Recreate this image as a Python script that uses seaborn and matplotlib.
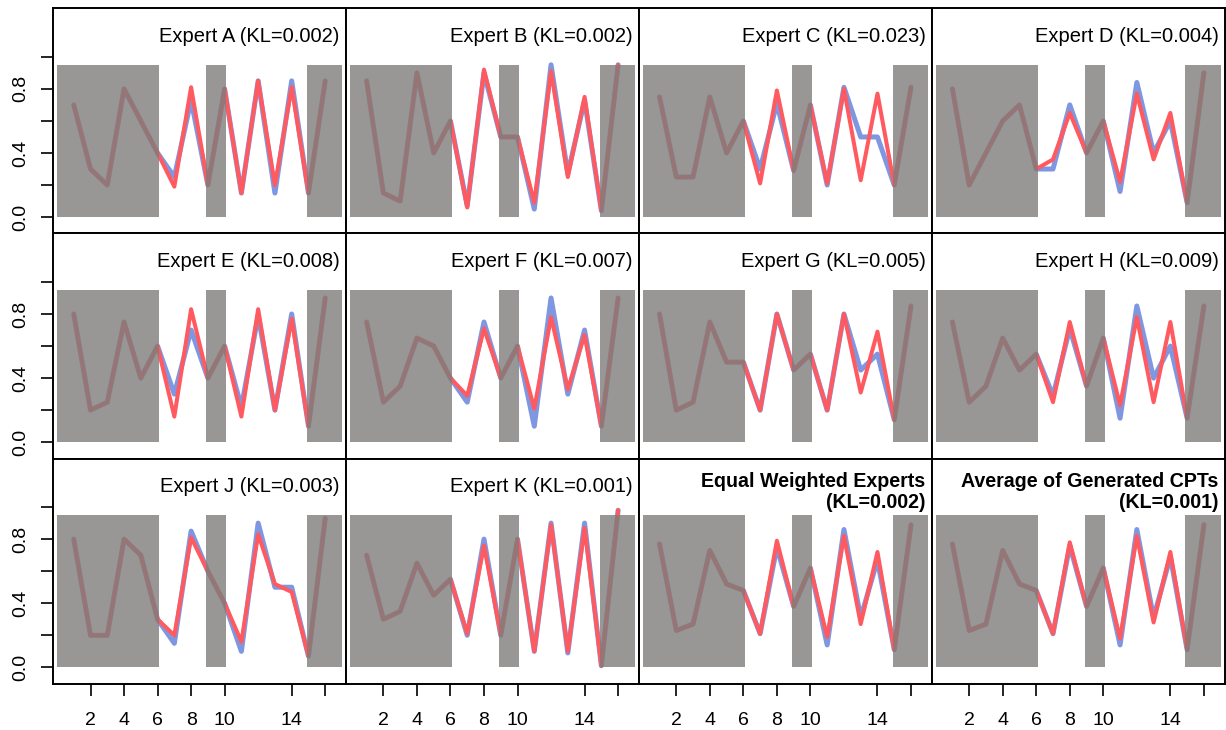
import matplotlib.pyplot as plt
import pandas as pd
import seaborn as sns
from matplotlib.patches import Rectangle

# CPT entries 1..16
positions = list(range(1, 17))

# blue = true CPT, red = elicited / generated CPT
true_a = [0.70, 0.30, 0.20, 0.80, 0.60, 0.40, 0.25, 0.73, 0.20, 0.80, 0.15, 0.85, 0.15, 0.85, 0.15, 0.85]
fit_a = [0.70, 0.30, 0.20, 0.80, 0.60, 0.40, 0.19, 0.81, 0.20, 0.80, 0.15, 0.85, 0.20, 0.81, 0.15, 0.85]
true_b = [0.85, 0.15, 0.10, 0.90, 0.40, 0.60, 0.07, 0.90, 0.50, 0.50, 0.05, 0.95, 0.27, 0.73, 0.04, 0.95]
fit_b = [0.85, 0.15, 0.10, 0.90, 0.40, 0.60, 0.06, 0.92, 0.50, 0.50, 0.09, 0.91, 0.25, 0.75, 0.04, 0.95]
true_c = [0.75, 0.25, 0.25, 0.75, 0.40, 0.60, 0.30, 0.71, 0.29, 0.70, 0.20, 0.81, 0.50, 0.50, 0.20, 0.81]
fit_c = [0.75, 0.25, 0.25, 0.75, 0.40, 0.60, 0.21, 0.79, 0.29, 0.70, 0.21, 0.80, 0.23, 0.77, 0.20, 0.81]
true_d = [0.80, 0.20, 0.40, 0.60, 0.70, 0.30, 0.30, 0.70, 0.40, 0.60, 0.16, 0.84, 0.40, 0.60, 0.09, 0.90]
fit_d = [0.80, 0.20, 0.40, 0.60, 0.70, 0.30, 0.36, 0.65, 0.40, 0.60, 0.22, 0.77, 0.36, 0.65, 0.09, 0.90]
true_e = [0.80, 0.20, 0.25, 0.75, 0.40, 0.60, 0.30, 0.70, 0.40, 0.60, 0.22, 0.79, 0.20, 0.80, 0.10, 0.90]
fit_e = [0.80, 0.20, 0.25, 0.75, 0.40, 0.60, 0.16, 0.83, 0.40, 0.60, 0.16, 0.83, 0.20, 0.77, 0.10, 0.90]
true_f = [0.75, 0.25, 0.35, 0.65, 0.60, 0.40, 0.25, 0.75, 0.40, 0.60, 0.10, 0.90, 0.30, 0.70, 0.10, 0.90]
fit_f = [0.75, 0.25, 0.35, 0.65, 0.60, 0.40, 0.29, 0.71, 0.40, 0.60, 0.21, 0.78, 0.33, 0.67, 0.10, 0.90]
true_g = [0.80, 0.20, 0.25, 0.75, 0.50, 0.50, 0.20, 0.80, 0.45, 0.55, 0.20, 0.80, 0.45, 0.55, 0.14, 0.85]
fit_g = [0.80, 0.20, 0.25, 0.75, 0.50, 0.50, 0.20, 0.80, 0.45, 0.55, 0.20, 0.80, 0.31, 0.69, 0.14, 0.85]
true_h = [0.75, 0.25, 0.35, 0.65, 0.45, 0.55, 0.29, 0.71, 0.35, 0.65, 0.15, 0.85, 0.40, 0.60, 0.15, 0.85]
fit_h = [0.75, 0.25, 0.35, 0.65, 0.45, 0.55, 0.25, 0.75, 0.35, 0.65, 0.23, 0.78, 0.25, 0.75, 0.15, 0.85]
true_j = [0.80, 0.20, 0.20, 0.80, 0.70, 0.30, 0.15, 0.85, 0.60, 0.40, 0.10, 0.90, 0.50, 0.50, 0.07, 0.93]
fit_j = [0.80, 0.20, 0.20, 0.80, 0.70, 0.30, 0.20, 0.81, 0.60, 0.40, 0.16, 0.83, 0.52, 0.47, 0.07, 0.93]
true_k = [0.70, 0.30, 0.35, 0.65, 0.45, 0.55, 0.20, 0.80, 0.20, 0.80, 0.10, 0.90, 0.09, 0.90, 0.01, 0.98]
fit_k = [0.70, 0.30, 0.35, 0.65, 0.45, 0.55, 0.21, 0.76, 0.20, 0.80, 0.10, 0.89, 0.10, 0.87, 0.01, 0.98]
true_eq = [0.77, 0.23, 0.27, 0.73, 0.52, 0.48, 0.21, 0.75, 0.38, 0.62, 0.14, 0.86, 0.31, 0.67, 0.11, 0.89]
fit_eq = [0.77, 0.23, 0.27, 0.73, 0.52, 0.48, 0.21, 0.79, 0.38, 0.62, 0.19, 0.82, 0.27, 0.72, 0.11, 0.89]
true_avg = [0.77, 0.23, 0.27, 0.73, 0.52, 0.48, 0.21, 0.76, 0.38, 0.62, 0.14, 0.86, 0.31, 0.69, 0.11, 0.89]
fit_avg = [0.77, 0.23, 0.27, 0.73, 0.52, 0.48, 0.21, 0.78, 0.38, 0.62, 0.18, 0.82, 0.28, 0.72, 0.11, 0.89]

panel_names = [
    "Expert A", "Expert B", "Expert C", "Expert D",
    "Expert E", "Expert F", "Expert G", "Expert H",
    "Expert J", "Expert K", "Equal Weighted Experts", "Average of Generated CPTs",
]
kl_values = ["0.002", "0.002", "0.023", "0.004", "0.008", "0.007",
             "0.005", "0.009", "0.003", "0.001", "0.002", "0.001"]
true_series = [true_a, true_b, true_c, true_d, true_e, true_f,
               true_g, true_h, true_j, true_k, true_eq, true_avg]
fit_series = [fit_a, fit_b, fit_c, fit_d, fit_e, fit_f,
              fit_g, fit_h, fit_j, fit_k, fit_eq, fit_avg]

# greyed-out stretches of the CPT
shade_spans = [(0.0, 6.1), (8.9, 10.1), (14.9, 17.0)]

BLUE = "#7F96E0"
RED = "#FF5A5F"
SHADE = "#7F7D7B"

sns.set_theme(style="ticks")
plt.rcParams["font.family"] = ["Liberation Sans", "DejaVu Sans"]
plt.rcParams.update({
    "axes.linewidth": 1.4,
    "text.color": "black",
    "xtick.color": "black",
    "ytick.color": "black",
    "axes.edgecolor": "black",
})

fig = plt.figure(figsize=(12.26, 7.30), dpi=100)
axes = fig.subplots(3, 4, sharex=True, sharey=True, gridspec_kw=dict(wspace=0, hspace=0))
fig.subplots_adjust(left=0.0436, right=0.9992, top=0.9886, bottom=0.0634)

for i, ax in enumerate(axes.flat):
    df = pd.DataFrame({"pos": positions, "true": true_series[i], "fit": fit_series[i]})
    sns.lineplot(data=df, x="pos", y="true", ax=ax, color=BLUE, lw=3.6, zorder=2)
    sns.lineplot(data=df, x="pos", y="fit", ax=ax, color=RED, lw=2.9, zorder=3)
    for x0, x1 in shade_spans:
        ax.add_patch(Rectangle((x0, 0), x1 - x0, 0.95, facecolor=SHADE, edgecolor="none",
                               alpha=0.8, zorder=4))

    if i < 10:
        ax.text(16.87, 1.127, f"{panel_names[i]} (KL={kl_values[i]})", ha="right", va="center",
                fontsize=14.5)
    else:
        ax.text(16.87, 1.096, f"{panel_names[i]}\n(KL={kl_values[i]})", ha="right", va="center",
                fontsize=14.1, fontweight="bold", linespacing=1.15)

    ax.set_xlim(-0.21, 17.26)
    ax.set_ylim(-0.102, 1.3025)
    ax.set_xlabel("")
    ax.set_ylabel("")
    for side in ax.spines.values():
        side.set_color("black")
        side.set_linewidth(1.4)

    ax.set_yticks([0.0, 0.2, 0.4, 0.6, 0.8, 1.0])
    ax.set_yticklabels(["0.0", "", "0.4", "", "0.8", ""])
    ax.set_xticks([2, 4, 6, 8, 10, 14, 16])
    ax.set_xticklabels(["2", "4", "6", "8", "10", "14", ""])
    ax.tick_params(axis="y", direction="out", length=8.5, width=1.2, pad=9,
                   labelsize=14, labelrotation=90, left=(i % 4 == 0), labelleft=(i % 4 == 0))
    ax.tick_params(axis="x", direction="out", length=8.5, width=1.2, pad=12,
                   labelsize=14, bottom=(i >= 8), labelbottom=(i >= 8))
    for lab in ax.get_yticklabels():
        lab.set_va("center")

fig.savefig("out.png", dpi=100)
